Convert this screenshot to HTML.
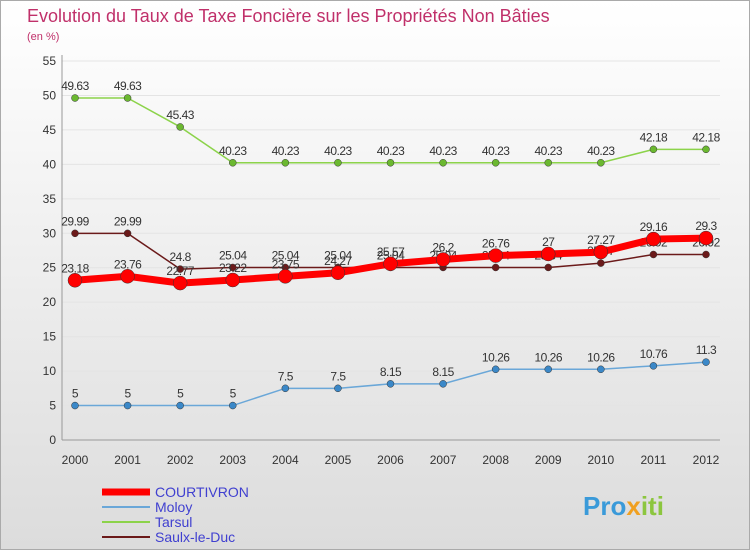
<!DOCTYPE html><html><head><style>body{margin:0}svg{font-family:"Liberation Sans",sans-serif}</style></head><body>
<svg id="c" width="750" height="550" xmlns="http://www.w3.org/2000/svg">
<defs><linearGradient id="bg" x1="0" y1="0" x2="0" y2="1"><stop offset="0" stop-color="#fff"/><stop offset="1" stop-color="#dcdcdc"/></linearGradient></defs>
<rect x="0.5" y="0.5" width="749" height="549" fill="url(#bg)" stroke="#aaa"/>
<text x="27" y="22" font-size="18" fill="#c0306a">Evolution du Taux de Taxe Foncière sur les Propriétés Non Bâties</text>
<text x="27" y="40" font-size="11" fill="#c0306a">(en %)</text>
<g id="grid"></g><g id="series"></g><g id="legend"></g>
<text x="583" y="515" font-size="26" font-weight="bold" fill="#3a9ad9">Pro<tspan fill="#f0a020">x</tspan><tspan fill="#8cc63f">iti</tspan></text>
</svg>
<script>
const years=["2000","2001","2002","2003","2004","2005","2006","2007","2008","2009","2010","2011","2012"];
const yTicks=[0,5,10,15,20,25,30,35,40,45,50,55];
const courtivron=[23.18,23.76,22.77,23.22,23.75,24.27,25.57,26.2,26.76,27,27.27,29.16,29.3];
const moloy=[5,5,5,5,7.5,7.5,8.15,8.15,10.26,10.26,10.26,10.76,11.3];
const tarsul=[49.63,49.63,45.43,40.23,40.23,40.23,40.23,40.23,40.23,40.23,40.23,42.18,42.18];
const saulx=[29.99,29.99,24.8,25.04,25.04,25.04,25.04,25.04,25.04,25.04,25.67,26.92,26.92];
const ns="http://www.w3.org/2000/svg";
const X=i=>75+i*(706-75)/12, Y=v=>440-v*(440-61)/55;
function mk(t,a,p){const e=document.createElementNS(ns,t);for(const k in a)e.setAttribute(k,a[k]);p.appendChild(e);return e;}
const g=document.getElementById('grid');
yTicks.forEach(v=>{
 const l=mk('line',{x1:62,x2:720,y1:Y(v),y2:Y(v),stroke:v==0?'#999':'#e4e4e4'},g);
 
 
 const t=mk('text',{x:56,y:Y(v)+4,'font-size':12,fill:'#333','text-anchor':'end'},g);t.textContent=v;
 
 
});
const ax=mk('line',{x1:62,x2:62,y1:55,y2:440,stroke:'#999'},g);


years.forEach((y,i)=>{
 const t=mk('text',{x:X(i),y:464,'font-size':12,fill:'#333','text-anchor':'middle'},g);t.textContent=y;
 
 
});
const S=[["tarsul",tarsul,"#8cd34a","#6bb830",1.5,3.5],["saulx-le-duc",saulx,"#6b1a1a","#6b1a1a",1.5,3.5],["moloy",moloy,"#6aa7d8","#3b88c8",1.5,3.5],["courtivron",courtivron,"#ff0000","#ff0000",7,7]];
const sg=document.getElementById('series');
S.forEach(([n,d,c,pc,w,r])=>{
 const p=mk('polyline',{points:d.map((v,i)=>X(i)+','+Y(v)).join(' '),fill:'none',stroke:c,'stroke-width':w},sg);
 
 
 d.forEach((v,i)=>{
  const ci=mk('circle',{cx:X(i),cy:Y(v),r:r,fill:pc,stroke:'#333','stroke-width':0.5},sg);
  
  
  const t=mk('text',{x:X(i),y:Y(v)-8,'font-size':12,fill:'#333','text-anchor':'middle','letter-spacing':'-0.5'},sg);t.textContent=v;
  
  
 });
});
const L=[["COURTIVRON","#ff0000",7],["Moloy","#6aa7d8",2],["Tarsul","#8cd34a",2],["Saulx-le-Duc","#6b1a1a",2]];
const lg=document.getElementById('legend');
L.forEach(([n,c,w],i)=>{
 const y=492+i*15;
 const l=mk('line',{x1:102,x2:150,y1:y,y2:y,stroke:c,'stroke-width':w},lg);
 
 
 const t=mk('text',{x:155,y:y+5,'font-size':14,fill:'#4040d0'},lg);t.textContent=n;
 
 
});
</script></body></html>
